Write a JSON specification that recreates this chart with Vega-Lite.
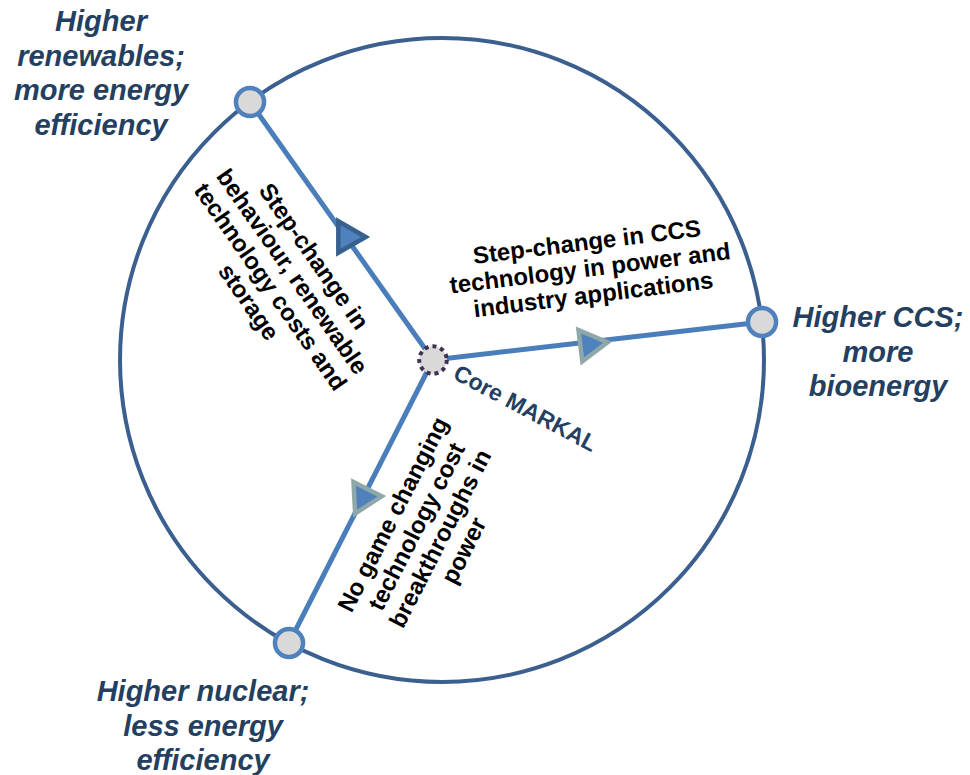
{
  "$schema": "https://vega.github.io/schema/vega-lite/v6.json",
  "width": 970,
  "height": 775,
  "padding": 0,
  "autosize": {"type": "none"},
  "background": "white",
  "config": {"view": {"stroke": null}},
  "datasets": {
    "ring": [{"name": "scenario space", "x": 442, "y": 360}],
    "paths": [
      {"scenario": "Higher renewables", "x": 433, "y": 360, "x2": 250, "y2": 102},
      {"scenario": "Higher CCS", "x": 433, "y": 360, "x2": 762, "y2": 322},
      {"scenario": "Higher nuclear", "x": 433, "y": 360, "x2": 289, "y2": 643}
    ],
    "arrows": [
      {"scenario": "Higher renewables", "x": 352, "y": 237, "angle": 0, "edge": "dark"},
      {"scenario": "Higher CCS", "x": 594, "y": 344, "angle": -7, "edge": "grey"},
      {"scenario": "Higher nuclear", "x": 368, "y": 497, "angle": -3, "edge": "grey"}
    ],
    "nodes": [
      {"scenario": "Higher renewables", "x": 250, "y": 102},
      {"scenario": "Higher CCS", "x": 762, "y": 322},
      {"scenario": "Higher nuclear", "x": 289, "y": 643}
    ],
    "core": [{"name": "Core MARKAL", "x": 433, "y": 360}],
    "endLabels": [
      {"label": "Higher\nrenewables;\nmore energy\nefficiency", "x": 101, "y": 22},
      {"label": "Higher CCS;\nmore\nbioenergy", "x": 878, "y": 318},
      {"label": "Higher nuclear;\nless energy\nefficiency", "x": 203, "y": 692}
    ],
    "pathLabels": [
      {"label": "Step-change in\nbehaviour, renewable\ntechnology costs and\nstorage", "x": 313, "y": 257, "angle": 55},
      {"label": "Step-change in CCS\ntechnology in power and\nindustry applications", "x": 587, "y": 243, "angle": -7},
      {"label": "No game changing\ntechnology cost\nbreakthroughs in\npower", "x": 394, "y": 515, "angle": -63}
    ],
    "coreLabel": [{"label": "Core MARKAL", "x": 525, "y": 409, "angle": 28}]
  },
  "encoding": {
    "x": {"field": "x", "type": "quantitative", "scale": {"domain": [0, 970], "nice": false, "zero": false}, "axis": null},
    "y": {"field": "y", "type": "quantitative", "scale": {"domain": [0, 775], "nice": false, "zero": false, "reverse": true}, "axis": null}
  },
  "layer": [
    {
      "data": {"name": "ring"},
      "mark": {"type": "point", "shape": "circle", "filled": false, "size": 414700, "stroke": "#3b5f8e", "strokeWidth": 4, "opacity": 1}
    },
    {
      "data": {"name": "paths"},
      "mark": {"type": "rule", "stroke": "#4a7ebb", "strokeWidth": 5},
      "encoding": {
        "x2": {"field": "x2"},
        "y2": {"field": "y2"}
      }
    },
    {
      "data": {"name": "arrows"},
      "mark": {"type": "point", "shape": "triangle-right", "filled": true, "size": 1000, "fill": "#4f81bd", "strokeWidth": 4.5, "opacity": 1},
      "encoding": {
        "angle": {"field": "angle", "type": "quantitative", "scale": null},
        "stroke": {"field": "edge", "type": "nominal", "scale": {"domain": ["dark", "grey"], "range": ["#37608f", "#8ea7a8"]}, "legend": null}
      }
    },
    {
      "data": {"name": "nodes"},
      "mark": {"type": "point", "shape": "circle", "filled": true, "size": 790, "fill": "#d9d9d9", "stroke": "#4f81bd", "strokeWidth": 4.5, "opacity": 1}
    },
    {
      "data": {"name": "core"},
      "mark": {"type": "point", "shape": "circle", "filled": true, "size": 760, "fill": "#d9d9d9", "stroke": "#3f3151", "strokeWidth": 4, "strokeDash": [4, 4], "opacity": 1}
    },
    {
      "data": {"name": "endLabels"},
      "mark": {"type": "text", "font": "Liberation Sans", "fontSize": 29, "fontWeight": "bold", "fontStyle": "italic", "color": "#243f60", "align": "center", "baseline": "middle", "lineBreak": "\n", "lineHeight": 34.5},
      "encoding": {"text": {"field": "label"}}
    },
    {
      "data": {"name": "pathLabels"},
      "mark": {"type": "text", "font": "Liberation Sans", "fontSize": 24, "fontWeight": "bold", "color": "#000000", "align": "center", "baseline": "middle", "lineBreak": "\n", "lineHeight": 26.5},
      "encoding": {
        "text": {"field": "label"},
        "angle": {"field": "angle", "type": "quantitative", "scale": null}
      }
    },
    {
      "data": {"name": "coreLabel"},
      "mark": {"type": "text", "font": "Liberation Sans", "fontSize": 23, "fontWeight": "bold", "color": "#243f60", "align": "center", "baseline": "middle"},
      "encoding": {
        "text": {"field": "label"},
        "angle": {"field": "angle", "type": "quantitative", "scale": null}
      }
    }
  ]
}
